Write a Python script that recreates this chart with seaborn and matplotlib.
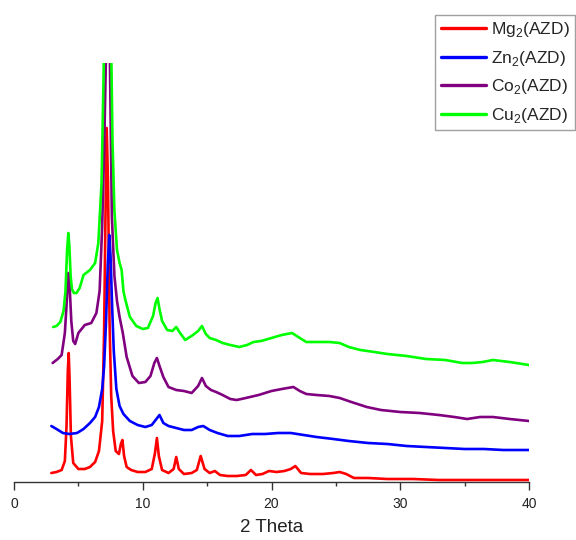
import matplotlib
matplotlib.use("Agg")
import matplotlib.pyplot as plt
import seaborn as sns
import pandas as pd
from matplotlib.lines import Line2D

# ---- data (2 theta, intensity in arbitrary units) ----
mg_x = [2.9, 3.3, 3.7, 3.95, 4.08, 4.18, 4.25, 4.32, 4.42, 4.6,
        5.0, 5.5, 5.9, 6.3, 6.6, 6.85, 7.0, 7.1, 7.2, 7.3,
        7.42, 7.55, 7.7, 7.9, 8.15, 8.3, 8.42, 8.55, 8.75, 9.1,
        9.6, 10.2, 10.7, 10.95, 11.1, 11.25, 11.5, 12.0, 12.4, 12.6,
        12.8, 13.2, 13.8, 14.2, 14.5, 14.8, 15.2, 15.6, 16.0, 16.6,
        17.3, 18.0, 18.4, 18.8, 19.3, 19.8, 20.4, 21.0, 21.5, 21.85,
        22.3, 23.0, 24.0, 24.8, 25.3, 25.8, 26.4, 27.5, 29, 31,
        33, 35, 37, 40]
mg_y = [8, 9, 11, 20, 55, 110, 128, 100, 45, 18,
        12, 12, 14, 19, 30, 60, 150, 260, 353, 300,
        160, 85, 50, 30, 27, 37, 41, 25, 14, 11,
        9, 9, 12, 28, 43, 25, 11, 8, 12, 24,
        12, 7, 8, 11, 25, 12, 8, 10, 6, 5,
        5, 6, 11, 6, 7, 10, 9, 10, 12, 15,
        8, 7, 7, 8, 9, 7, 3, 3, 2, 2,
        1, 1, 1, 1]

zn_x = [2.9, 3.3, 3.8, 4.3, 4.9, 5.4, 5.9, 6.3, 6.6, 6.85,
        7.0, 7.15, 7.28, 7.4, 7.5, 7.62, 7.75, 7.95, 8.2, 8.5,
        9.0, 9.6, 10.2, 10.7, 11.0, 11.3, 11.6, 12.0, 12.6, 13.2,
        13.8, 14.3, 14.7, 15.2, 15.8, 16.6, 17.5, 18.5, 19.5, 20.5,
        21.5, 22.5, 23.5, 24.8, 26, 27.5, 29, 30.5, 32, 33.5,
        35, 36.5, 38, 40]
zn_y = [55, 52, 48, 47, 48, 52, 58, 64, 74, 92,
        115, 160, 215, 246, 225, 175, 130, 92, 75, 67,
        60, 56, 54, 56, 61, 66, 58, 55, 53, 51,
        51, 54, 55, 51, 48, 45, 45, 47, 47, 48,
        48, 46, 44, 42, 40, 38, 37, 35, 34, 33,
        32, 32, 31, 31]

co_x = [3.0, 3.4, 3.7, 3.95, 4.1, 4.22, 4.32, 4.45, 4.6, 4.75,
        5.0, 5.5, 6.0, 6.4, 6.65, 6.85, 7.0, 7.15, 7.3, 7.45,
        7.6, 7.8, 8.0, 8.2, 8.45, 8.75, 9.2, 9.7, 10.2, 10.6,
        10.9, 11.1, 11.3, 11.6, 12.0, 12.6, 13.2, 13.8, 14.3, 14.6,
        14.9, 15.3, 15.7, 16.2, 16.8, 17.3, 18.0, 19.0, 20.0, 20.8,
        21.7, 22.2, 22.7, 23.5, 24.5, 25.3, 26.2, 27.4, 28.5, 30,
        31.5, 33, 34.2, 35.2, 36.2, 37.2, 38.5, 40]
co_y = [118, 122, 126, 148, 180, 208, 195, 160, 140, 137,
        148, 156, 158, 168, 190, 255, 330, 430, 470, 420,
        264, 205, 180, 164, 148, 124, 105, 98, 99, 105,
        118, 123, 115, 104, 94, 91, 90, 88, 95, 103,
        95, 91, 89, 86, 82, 81, 83, 86, 90, 92,
        94, 90, 87, 86, 85, 83, 79, 74, 71, 69,
        68, 66, 64, 62, 64, 64, 62, 60]

cu_x = [3.05, 3.3, 3.6, 3.85, 4.0, 4.12, 4.22, 4.3, 4.4, 4.5,
        4.65, 4.85, 5.1, 5.4, 5.9, 6.3, 6.55, 6.8, 6.95, 7.1,
        7.3, 7.5, 7.65, 7.8, 8.0, 8.2, 8.36, 8.5, 8.65, 9.0,
        9.5, 10.0, 10.4, 10.8, 11.0, 11.15, 11.3, 11.5, 11.9, 12.3,
        12.6, 12.9, 13.3, 13.9, 14.3, 14.6, 14.9, 15.2, 15.7, 16.2,
        16.8, 17.5, 18.1, 18.6, 19.2, 20.0, 20.8, 21.6, 22.2, 22.7,
        23.5, 24.5, 25.3, 26.0, 26.9, 28, 29, 30.5, 32, 33.5,
        34.8, 35.6, 36.4, 37.2, 38.5, 40]
cu_y = [154, 155, 159, 170, 190, 230, 248, 235, 205, 192,
        188, 188, 193, 206, 211, 218, 238, 298, 400, 520,
        570, 480, 340, 270, 231, 218, 211, 190, 181, 164,
        155, 152, 153, 165, 178, 183, 172, 160, 151, 150,
        154, 148, 141, 146, 150, 155, 147, 143, 141, 138,
        136, 134, 136, 139, 140, 143, 146, 148, 143, 139,
        139, 139, 138, 134, 131, 129, 127, 125, 122, 121,
        118, 118, 119, 121, 119, 116]

labels = ["Mg$_\\mathregular{2}$(AZD)", "Zn$_\\mathregular{2}$(AZD)",
          "Co$_\\mathregular{2}$(AZD)", "Cu$_\\mathregular{2}$(AZD)"]
colors = ["#ff0000", "#0000ff", "#800080", "#00ff00"]
xticks = [0, 10, 20, 30, 40]

series = [(mg_x, mg_y), (zn_x, zn_y), (co_x, co_y), (cu_x, cu_y)]

sns.set_style("white")
plt.rcParams["font.family"] = ["Liberation Sans", "DejaVu Sans"]
plt.rcParams["mathtext.fontset"] = "custom"
plt.rcParams["mathtext.rm"] = "Liberation Sans"

fig = plt.figure(figsize=(5.76, 5.4), dpi=100)
ax = fig.add_axes([14/576, 58/540, 515/576, 419/540])

zorders = [2, 3, 4, 5]
for (xs, ys), lab, col, z in zip(series, labels, colors, zorders):
    df = pd.DataFrame({"x": xs, "y": ys})
    sns.lineplot(data=df, x="x", y="y", color=col, linewidth=1.9,
                 estimator=None, sort=False, ax=ax, zorder=z, legend=False)

ax.set_xlim(0, 40)
ax.set_ylim(-1, 418)
ax.set_yticks([])
ax.set_xticks(xticks)
ax.set_xticks([5, 15, 25, 35], minor=True)
for s in ["left", "top", "right"]:
    ax.spines[s].set_visible(False)
ax.spines["bottom"].set_color("#333333")
ax.spines["bottom"].set_linewidth(1.0)
ax.tick_params(axis="x", which="major", direction="out", length=6, width=1,
               color="#333333", labelsize=10, labelcolor="#222222", pad=4.5, bottom=True)
ax.tick_params(axis="x", which="minor", direction="out", length=3, width=1,
               color="#333333", bottom=True)
ax.set_xlabel("2 Theta", fontsize=13.5, color="#222222", labelpad=6)
ax.set_ylabel("")

handles = [Line2D([0], [0], color=c, linewidth=2.4) for c in colors]
leg = fig.legend(handles, labels, loc="upper right",
                 bbox_to_anchor=(575/576, 1 - 15/540), fontsize=12.5,
                 frameon=True, fancybox=False, edgecolor="#888888",
                 handlelength=2.6, handletextpad=0.3, labelspacing=0.55,
                 borderpad=0.3, borderaxespad=0)
leg.get_frame().set_linewidth(1.0)

fig.savefig("out.png", dpi=100)
